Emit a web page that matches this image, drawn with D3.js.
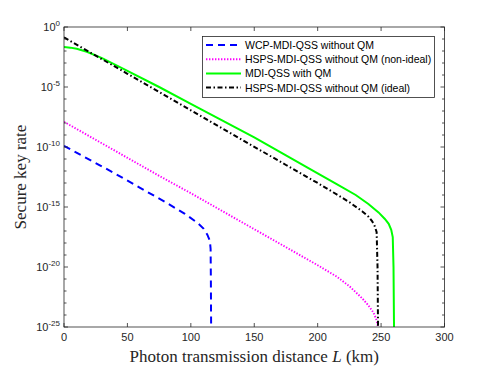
<!DOCTYPE html>
<html>
<head>
<meta charset="utf-8">
<script src="https://cdn.jsdelivr.net/npm/d3@7"></script>
<style>
body { margin: 0; background: #fff; }
svg { display: block; }
</style>
</head>
<body>
<svg id="chart" width="491" height="368"></svg>
<script>
// distances (km) and log10(key rate)
var wcpL = [0, 20, 40, 60, 80, 95, 105, 110, 113, 115, 115.6, 115.8, 116]
var wcpR = [-9.9, -11.05, -12.2, -13.4, -14.6, -15.55, -16.3, -16.8, -17.3, -17.8, -18.5, -21, -25]

var hspsNonL = [0, 25, 50, 75, 100, 125, 150, 175, 200, 215, 225, 235, 240, 244, 246, 247, 247.5]
var hspsNonR = [-7.9, -9.4, -10.9, -12.4, -13.85, -15.35, -16.85, -18.35, -19.85, -20.8, -21.6, -22.6, -23.2, -23.8, -24.3, -24.7, -25]

var mdiL = [0, 5, 10, 18, 30, 50, 75, 100, 125, 150, 175, 200, 215, 230, 240, 248, 253, 256, 258, 259.2, 259.8, 260.2]
var mdiR = [-1.67, -1.72, -1.82, -2.06, -2.6, -3.65, -5.0, -6.4, -7.8, -9.2, -10.7, -12.2, -13.1, -14.0, -14.75, -15.45, -16.0, -16.4, -16.9, -17.5, -20, -25]

var hspsIdL = [0, 25, 50, 75, 100, 125, 150, 175, 200, 215, 225, 235, 240, 243, 245, 246.5, 247.2, 247.6]
var hspsIdR = [-0.86, -2.38, -3.9, -5.42, -6.94, -8.46, -9.98, -11.5, -13.0, -13.95, -14.6, -15.35, -15.8, -16.2, -16.6, -17.1, -20, -25]

var xTicks = [0, 50, 100, 150, 200, 250, 300]
var yTicks = [0, -5, -10, -15, -20, -25]

var legendLabels = [
	'WCP-MDI-QSS without QM',
	'HSPS-MDI-QSS without QM (non-ideal)',
	'MDI-QSS with QM',
	'HSPS-MDI-QSS without QM (ideal)'
]

var series = [
	{L: wcpL, R: wcpR, color: '#0000ff', dash: '7,5', width: 2},
	{L: hspsNonL, R: hspsNonR, color: '#ff00ff', dash: '1.4,1.6', width: 1.9},
	{L: mdiL, R: mdiR, color: '#00ff00', dash: null, width: 2},
	{L: hspsIdL, R: hspsIdR, color: '#000000', dash: '5,2.5,1.5,2.5', width: 2}
]

function draw() {
	var svg = d3.select('#chart')
	var pLeft = 64, pRight = 444.5, pTop = 27, pBottom = 327
	var axisColor = '#262626'

	var x = d3.scaleLinear().domain([0, 300]).range([pLeft, pRight])
	var y = d3.scaleLinear().domain([-25, 0]).range([pBottom, pTop])

	// plot lines, clipped to the axes box
	svg.append('clipPath').attr('id', 'clip')
		.append('rect').attr('x', pLeft).attr('y', pTop).attr('width', pRight - pLeft).attr('height', pBottom - pTop)

	var line = d3.line()
		.x(function(d) { return x(d[0]) })
		.y(function(d) { return y(d[1]) })

	var g = svg.append('g').attr('clip-path', 'url(#clip)')
	series.forEach(function(s) {
		var pts = s.L.map(function(l, i) { return [l, s.R[i]] })
		g.append('path')
			.attr('d', line(pts))
			.attr('fill', 'none')
			.attr('stroke', s.color)
			.attr('stroke-width', s.width)
			.attr('stroke-dasharray', s.dash)
	})

	// box
	svg.append('rect')
		.attr('x', pLeft).attr('y', pTop).attr('width', pRight - pLeft).attr('height', pBottom - pTop)
		.attr('fill', 'none').attr('stroke', axisColor).attr('stroke-width', 0.8)

	// x ticks (bottom and top, inward)
	xTicks.forEach(function(t) {
		svg.append('line').attr('x1', x(t)).attr('x2', x(t)).attr('y1', pBottom).attr('y2', pBottom - 4)
			.attr('stroke', axisColor).attr('stroke-width', 0.8)
		svg.append('line').attr('x1', x(t)).attr('x2', x(t)).attr('y1', pTop).attr('y2', pTop + 4)
			.attr('stroke', axisColor).attr('stroke-width', 0.8)
		svg.append('text').attr('x', x(t)).attr('y', pBottom + 14)
			.attr('text-anchor', 'middle')
			.attr('font-family', 'Liberation Sans, Arial, sans-serif').attr('font-size', 11)
			.attr('fill', axisColor).text(t)
	})

	// y ticks: minor every decade, major every five
	d3.range(-25, 1).forEach(function(d) {
		var len = (d % 5 === 0) ? 4 : 2.5
		svg.append('line').attr('x1', pLeft).attr('x2', pLeft + len).attr('y1', y(d)).attr('y2', y(d))
			.attr('stroke', axisColor).attr('stroke-width', 0.8)
		svg.append('line').attr('x1', pRight).attr('x2', pRight - len).attr('y1', y(d)).attr('y2', y(d))
			.attr('stroke', axisColor).attr('stroke-width', 0.8)
	})

	yTicks.forEach(function(t) {
		var txt = svg.append('text').attr('x', pLeft - 4).attr('y', y(t) + 4)
			.attr('text-anchor', 'end')
			.attr('font-family', 'Liberation Sans, Arial, sans-serif').attr('font-size', 11)
			.attr('fill', axisColor)
		txt.append('tspan').text('10')
		txt.append('tspan').attr('dy', -5).attr('font-size', 8).text(t)
	})

	// axis labels
	var xl = svg.append('text').attr('x', (pLeft + pRight) / 2).attr('y', 362)
		.attr('text-anchor', 'middle')
		.attr('font-family', 'Liberation Serif, Times New Roman, serif').attr('font-size', 17)
		.attr('fill', axisColor)
	xl.append('tspan').text('Photon transmission distance ')
	xl.append('tspan').attr('font-style', 'italic').text('L')
	xl.append('tspan').text(' (km)')

	svg.append('text')
		.attr('transform', 'translate(26,' + ((pTop + pBottom) / 2) + ') rotate(-90)')
		.attr('text-anchor', 'middle')
		.attr('font-family', 'Liberation Serif, Times New Roman, serif').attr('font-size', 17)
		.attr('fill', axisColor).text('Secure key rate')

	// legend
	var lg = svg.append('g')
	lg.append('rect').attr('x', 202.5).attr('y', 36.5).attr('width', 232).attr('height', 61)
		.attr('fill', '#fff').attr('stroke', axisColor).attr('stroke-width', 0.8)
	series.forEach(function(s, i) {
		var ly = 45 + i * 14.2
		lg.append('line').attr('x1', 206).attr('x2', 241).attr('y1', ly).attr('y2', ly)
			.attr('stroke', s.color).attr('stroke-width', s.width).attr('stroke-dasharray', s.dash)
		lg.append('text').attr('x', 245).attr('y', ly + 4)
			.attr('font-family', 'Liberation Sans, Arial, sans-serif').attr('font-size', 10.5)
			.attr('fill', '#000').text(legendLabels[i])
	})
}

draw()
</script>
</body>
</html>
